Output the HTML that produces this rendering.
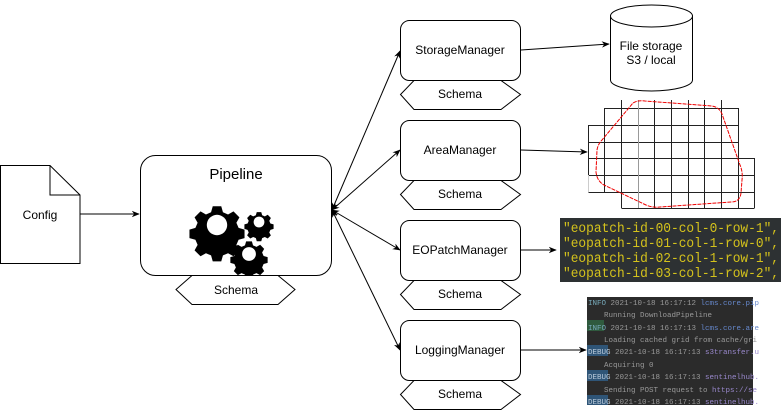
<!DOCTYPE html>
<html><head><style>body{margin:0;background:#fff}svg{display:block}</style></head><body>
<svg width="781" height="411" xmlns="http://www.w3.org/2000/svg" font-family="Liberation Sans, sans-serif">
<defs>
<marker id="a" viewBox="0 0 10 10" refX="9" refY="5" markerWidth="8" markerHeight="8" orient="auto-start-reverse"><path d="M0,1 L10,5 L0,9 L3,5Z" fill="#000"/></marker>
<g id="gear"><path d="M-2.5,-11h5l1,3.5l3,1.3l3.2,-1.8l3.5,3.5l-1.8,3.2l1.3,3l3.5,1v5l-3.5,1l-1.3,3l1.8,3.2l-3.5,3.5l-3.2,-1.8l-3,1.3l-1,3.5h-5l-1,-3.5l-3,-1.3l-3.2,1.8l-3.5,-3.5l1.8,-3.2l-1.3,-3l-3.5,-1v-5l3.5,-1l1.3,-3l-1.8,-3.2l3.5,-3.5l3.2,1.8l3,-1.3z" transform="translate(0,-0)" fill="#000"/></g>
</defs>
<!-- Config -->
<path d="M0.5,165.5 H50 L80,195 V263.5 H0.5Z" fill="#fff" stroke="#000"/>
<path d="M50,165.5 V195 H80" fill="none" stroke="#000"/>
<text x="40" y="219" font-size="12" text-anchor="middle">Config</text>
<line x1="80" y1="214" x2="139" y2="214" stroke="#000" marker-end="url(#a)"/>
<!-- Pipeline -->
<rect x="140.5" y="155.5" width="191" height="120" rx="15" fill="#fff" stroke="#000"/>
<text x="236" y="179" font-size="15" text-anchor="middle">Pipeline</text>
<g transform="translate(217,225) scale(1.7)"><use href="#gear"/><circle cx="0" cy="0" r="6" fill="#fff"/></g>
<g transform="translate(259,222) scale(0.9)"><use href="#gear"/><circle r="6" fill="#fff"/></g>
<g transform="translate(249,254) scale(1.15)"><use href="#gear"/><circle r="6" fill="#fff"/></g>
<path d="M192,275.5 H278 L295,289.5 L278,304.5 H192 L176,289.5Z" fill="#fff" stroke="#000"/>
<text x="236" y="294" font-size="12" text-anchor="middle">Schema</text>
<!-- connectors -->
<g stroke="#000" fill="none">
<line x1="332" y1="210" x2="400" y2="51" marker-start="url(#a)" marker-end="url(#a)"/>
<line x1="332" y1="210" x2="400" y2="150" marker-start="url(#a)" marker-end="url(#a)"/>
<line x1="332" y1="210" x2="400" y2="250" marker-start="url(#a)" marker-end="url(#a)"/>
<line x1="332" y1="210" x2="400" y2="350" marker-start="url(#a)" marker-end="url(#a)"/>
<line x1="521" y1="50" x2="609" y2="44" marker-end="url(#a)"/>
<line x1="521" y1="150" x2="587" y2="152" marker-end="url(#a)"/>
<line x1="521" y1="250" x2="556" y2="250" marker-end="url(#a)"/>
<line x1="521" y1="350" x2="586" y2="350" marker-end="url(#a)"/>
</g>
<!-- managers -->
<g font-size="12" text-anchor="middle">
<rect x="400.5" y="20.5" width="120" height="60" rx="9" fill="#fff" stroke="#000"/><text x="460" y="54">StorageManager</text>
<path d="M414,80.5 H501 L520.5,94.5 L501,109.5 H414 L400.5,94.5Z" fill="#fff" stroke="#000"/><text x="460" y="98">Schema</text>
<rect x="400.5" y="120.5" width="120" height="60" rx="9" fill="#fff" stroke="#000"/><text x="460" y="154">AreaManager</text>
<path d="M414,180.5 H501 L520.5,194.5 L501,209.5 H414 L400.5,194.5Z" fill="#fff" stroke="#000"/><text x="460" y="198">Schema</text>
<rect x="400.5" y="220.5" width="120" height="60" rx="9" fill="#fff" stroke="#000"/><text x="460" y="254">EOPatchManager</text>
<path d="M414,280.5 H501 L520.5,294.5 L501,309.5 H414 L400.5,294.5Z" fill="#fff" stroke="#000"/><text x="460" y="298">Schema</text>
<rect x="400.5" y="320.5" width="120" height="60" rx="9" fill="#fff" stroke="#000"/><text x="460" y="354">LoggingManager</text>
<path d="M414,380.5 H501 L520.5,394.5 L501,409.5 H414 L400.5,394.5Z" fill="#fff" stroke="#000"/><text x="460" y="398">Schema</text>
</g>
<!-- cylinder -->
<path d="M610.5,16 V80 A41,11 0 0 0 692.5,80 V16" fill="#fff" stroke="#000"/>
<ellipse cx="651.5" cy="16" rx="41" ry="11" fill="#fff" stroke="#000"/>
<text x="651" y="50" font-size="12" text-anchor="middle">File storage</text>
<text x="651" y="64" font-size="12" text-anchor="middle">S3 / local</text>
<!-- grid -->
<g stroke="#222" stroke-width="1" fill="none">
<path d="M604.5,108.5H738.5 M588.5,125.5H738.5 M588.5,142.5H738.5 M588.5,158.5H754.5 M588.5,175.5H754.5 M588.5,192.5H754.5 M621.5,208.5H754.5"/>
<path d="M604.5,108V192 M621.5,100V208 M654.5,100V208 M671.5,100V208 M688.5,100V208 M704.5,100V208 M721.5,100V208 M738.5,108V208 M754.5,158V208 M588.5,125V175"/>
<path d="M638.5,100V208" stroke="#999"/>
<path d="M588.5,175V192" stroke="#ccc"/>
</g>
<path d="M633,103 Q638,100 645,101 L712,106 Q719,107 722,114 L740,165 Q743,172 742,180 L741,193 Q740,202 731,202 L660,207 Q653,208 646,205 L604,185 Q597,181 596,172 L597,150 Q598,144 602,140Z" fill="none" stroke="#e00" stroke-dasharray="4,1"/>
<!-- code -->
<rect x="560" y="218" width="221" height="64" fill="#2d3133"/>
<g font-family="Liberation Mono, monospace" font-size="13.5" fill="#d4c21c">
<text x="563" y="232" textLength="216" lengthAdjust="spacingAndGlyphs">"eopatch-id-00-col-0-row-1",</text>
<text x="563" y="247" textLength="216" lengthAdjust="spacingAndGlyphs">"eopatch-id-01-col-1-row-0",</text>
<text x="563" y="262" textLength="216" lengthAdjust="spacingAndGlyphs">"eopatch-id-02-col-1-row-1",</text>
<text x="563" y="277" textLength="216" lengthAdjust="spacingAndGlyphs">"eopatch-id-03-col-1-row-2",</text>
</g>
<!-- log -->
<rect x="587" y="297" width="166" height="108" fill="#2b2b2b"/>
<g font-family="Liberation Mono, monospace" font-size="7.5" fill="#999">
<rect x="587" y="320" width="17" height="11" fill="#2f5a3e"/>
<rect x="587" y="345" width="21" height="11" fill="#2f5577"/>
<rect x="587" y="370" width="21" height="11" fill="#2f5577"/>
<rect x="587" y="395" width="21" height="10" fill="#2f5577"/>
<text x="588" y="305"><tspan fill="#7ab">INFO</tspan> 2021-10-18 16:17:12 <tspan fill="#68c">lcms.core.pip</tspan></text>
<text x="604" y="317">Running DownloadPipeline</text>
<text x="588" y="330"><tspan fill="#7ab">INFO</tspan> 2021-10-18 16:17:13 <tspan fill="#68c">lcms.core.are</tspan></text>
<text x="604" y="342">Loading cached grid from cache/gri</text>
<text x="588" y="354"><tspan fill="#bcd">DEBUG</tspan> 2021-10-18 16:17:13 <tspan fill="#98c">s3transfer.u</tspan></text>
<text x="604" y="367">Acquiring 0</text>
<text x="588" y="379"><tspan fill="#bcd">DEBUG</tspan> 2021-10-18 16:17:13 <tspan fill="#98c">sentinelhub.</tspan></text>
<text x="604" y="392">Sending POST request to <tspan fill="#98c">https://se</tspan></text>
<text x="588" y="404"><tspan fill="#bcd">DEBUG</tspan> 2021-10-18 16:17:13 <tspan fill="#98c">sentinelhub.</tspan></text>
</g>
</svg>
</body></html>
